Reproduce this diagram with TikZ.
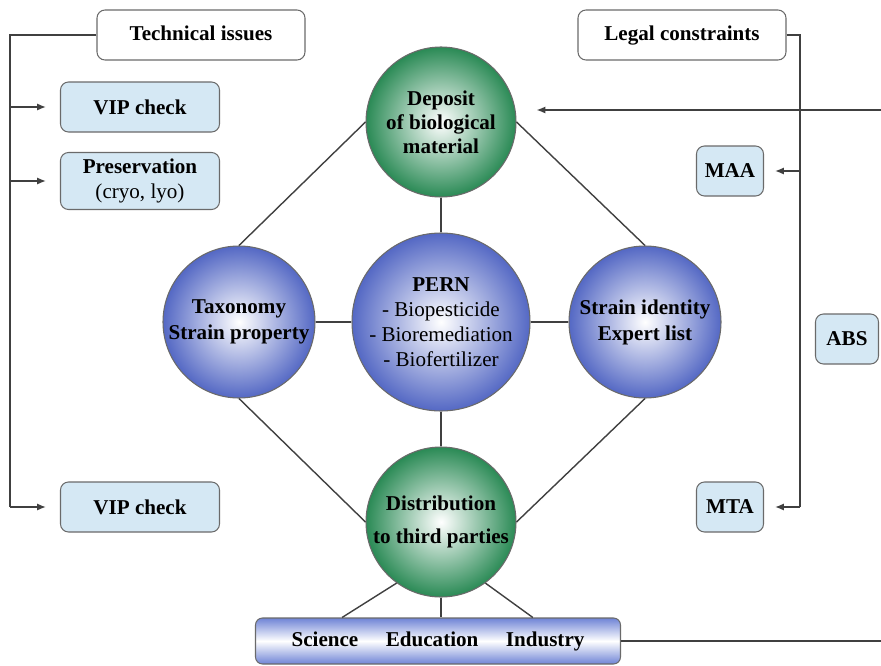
\documentclass[tikz,border=0pt]{standalone}
\usepackage{fontspec}
\setmainfont{Liberation Serif}
\usepackage{tikz}
\usetikzlibrary{arrows.meta}
\usetikzlibrary{shapes.geometric, calc}

\definecolor{boxblue}{HTML}{D5E8F4}
\definecolor{ballgreen}{HTML}{2A8A55}
\definecolor{ballblue}{HTML}{5468C4}
\definecolor{barblue}{HTML}{6F84D6}
\definecolor{rimgray}{HTML}{6A6A6A}

\begin{document}
\begin{tikzpicture}[x=0.2mm, y=0.2mm,
    font=\fontsize{12}{14}\selectfont,
    whitebox/.style={draw=rimgray, fill=white, rounded corners=1.6mm, line width=0.6pt,
        font=\fontsize{12}{14}\selectfont\bfseries, minimum width=41.6mm, minimum height=10mm,
        text height=1.6ex, text depth=0.3ex},
    bluebox/.style={draw=rimgray, fill=boxblue, rounded corners=1.6mm, line width=0.6pt,
        font=\fontsize{12}{14.5}\selectfont, align=center, minimum height=10mm, inner sep=1pt},
    greenball/.style={circle, draw=rimgray, line width=0.6pt, inner color=white, outer color=ballgreen,
        minimum size=30mm, inner sep=0pt, align=center, font=\fontsize{12}{13.7}\selectfont\bfseries},
    blueball/.style={circle, draw=rimgray, line width=0.6pt, inner color=white, outer color=ballblue,
        minimum size=30.4mm, inner sep=0pt, align=center, font=\fontsize{12}{14.8}\selectfont\bfseries},
    link/.style={draw=black!75, line width=0.8pt},
    tip/.style={-{Latex[length=5pt,width=4pt]}}
]
    \useasboundingbox (0,0) rectangle (881,-666);

    % En-tetes
    \node[whitebox] (tech) at (201,-35) {Technical issues};
    \node[whitebox] (legal) at (682,-35) {Legal constraints};

    % Cotes gauche et droit
    \node[bluebox, minimum width=31.8mm] (vipa) at (140,-107) {\textbf{VIP check}};
    \node[bluebox, minimum width=31.8mm, minimum height=11.4mm] (pres) at (140,-181) {\textbf{Preservation}\\(cryo, lyo)};
    \node[bluebox, minimum width=31.8mm] (vipb) at (140,-507) {\textbf{VIP check}};
    \node[bluebox, minimum width=13.4mm] (maa) at (730,-171) {\textbf{MAA}};
    \node[bluebox, minimum width=12.6mm] (abs) at (847,-339) {\textbf{ABS}};
    \node[bluebox, minimum width=13.4mm] (mta) at (730,-507) {\textbf{MTA}};

    % Cercles
    \node[greenball] (deposit) at (441,-122) {Deposit\\of biological\\material};
    \node[greenball] (distrib) at (441,-522) {Distribution\\[5pt]to third parties};
    \node[blueball] (taxon) at (239,-322) {Taxonomy\\Strain property};
    \node[blueball] (strain) at (645,-322) {Strain identity\\Expert list};
    \node[blueball, minimum size=35.6mm, font=\fontsize{12}{14.2}\selectfont] (pern) at (441,-322)
        {\textbf{PERN}\\- Biopesticide\\- Bioremediation\\- Biofertilizer};

    % Barre des utilisateurs
    \node[draw=rimgray, line width=0.6pt, rounded corners=1.4mm, top color=barblue, bottom color=barblue,
        middle color=white, minimum width=73mm, minimum height=9.2mm, font=\fontsize{12}{14}\selectfont\bfseries]
        (users) at (438,-641) {Science\hspace{5.5mm}Education\hspace{5.5mm}Industry};

    % Losange
    \draw[link] (deposit.west) -- (taxon.north);
    \draw[link] (deposit.east) -- (strain.north);
    \draw[link] (taxon.south) -- (distrib.west);
    \draw[link] (strain.south) -- (distrib.east);
    \draw[link] (deposit.south) -- (pern.north);
    \draw[link] (pern.south) -- (distrib.north);
    \draw[link] (taxon.east) -- (pern.west);
    \draw[link] (pern.east) -- (strain.west);

    % Distribution vers la barre
    \draw[link] (distrib.234) -- ($(users.north west)!0.238!(users.north east)$);
    \draw[link] (distrib.south) -- (distrib.south |- users.north);
    \draw[link] (distrib.306) -- ($(users.north west)!0.759!(users.north east)$);

    % Accolade gauche
    \coordinate (lcorner) at (10,-507);
    \draw[link] (tech.west) -| (lcorner);
    \draw[link, tip, shorten >=2.8mm] (lcorner) -- (vipb.west);
    \draw[link, tip, shorten >=2.8mm] (vipa.west -| lcorner) -- (vipa.west);
    \draw[link, tip, shorten >=2.8mm] (pres.west -| lcorner) -- (pres.west);

    % Accolade droite
    \coordinate (rcorner) at (800,-507);
    \draw[link] (legal.east) -| (rcorner);
    \draw[link, tip, shorten >=2.2mm] (rcorner) -- (mta.east);
    \draw[link, tip, shorten >=2.2mm] (maa.east -| rcorner) -- (maa.east);

    % Boucle retour
    \coordinate (rin) at (881,-110);
    \coordinate (rout) at (881,-643);
    \draw[link, tip, shorten >=4mm] (rin) -- (rin -| deposit.east);
    \draw[link] (users.east) -- (users.east -| rout);
\end{tikzpicture}
\end{document}
